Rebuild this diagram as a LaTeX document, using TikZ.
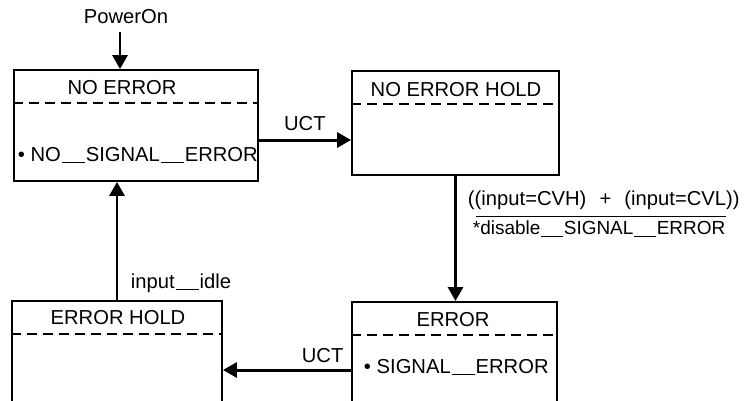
\documentclass[tikz,border=0pt]{standalone}
\usepackage{fontspec}
\setmainfont{Liberation Sans}
\usetikzlibrary{
    arrows.meta,
    calc
}
\newcommand{\ulbar}{\hspace{0.04em}\rule[-0.1em]{1.15em}{0.55pt}\hspace{0.04em}}
\tikzset{
  every node/.style={
    font=\fontsize{11.5pt}{13pt}\selectfont,
    inner sep=1.5pt
  },
  state/.style={
    draw,
    rectangle,
    line width=1.1pt
  },
  divider/.style={
    line width=1.1pt,
    dash pattern=on 0.2cm off 0.12cm
  },
  trans/.style={
    line width=1.7pt,
    -{Triangle[length=0.28cm,width=0.3cm]}
  }
}

\begin{document}
\begin{tikzpicture}[x=0.02cm,y=-0.02cm]
\clip (0,0) rectangle (746,400);
\node[state, minimum width=4.88cm, minimum height=2.22cm] (noerr) at (136,125.5) {};
\node[state, minimum width=4.14cm, minimum height=2.08cm] (noerrhold) at (455.5,123) {};
\node[state, minimum width=4.1cm, minimum height=2.56cm] (err) at (454.5,366) {};
\node[state, minimum width=4.2cm, minimum height=2.58cm] (errhold) at (117,365.5) {};
\foreach \st in {noerr,noerrhold,err,errhold} {
\draw[divider] ($(\st.north west)+(0,34)$) -- ($(\st.north east)+(0,34)$);
}
\node (noerrT) at (122,88) {NO ERROR};
\node (noerrholdT) at (456,90) {NO ERROR HOLD};
\node (errT) at (453,320) {ERROR};
\node (errholdT) at (118,318) {ERROR HOLD};
\node[anchor=west] (noerrA) at (15,155) {\textbullet\ NO\ulbar SIGNAL\ulbar ERROR};
\node[anchor=west] (errA) at (361,367) {\textbullet\ SIGNAL\ulbar ERROR};
\node (power) at (126,17) {PowerOn};
\coordinate (pwr) at (120,32);
\draw[trans] (pwr) -- (pwr |- noerr.north);
\draw[trans] (noerr.east |- 0,140) -- (noerrhold.west |- 0,140)
  node[pos=0, anchor=south west, xshift=12pt, yshift=3pt] (uct1) {UCT};
\draw[trans] (noerrhold.south) -- (noerrhold.south |- err.north);
\node[anchor=west] (cond) at (465,200) {((input=CVH)\hspace{0.65em}+\hspace{0.65em}(input=CVL))};
\node[anchor=west, font=\fontsize{10.8pt}{13pt}\selectfont] (act) at (470,229) {*disable\ulbar SIGNAL\ulbar ERROR};
\draw[line width=0.6pt] ($(act.north west)+(6,-2)$) -- ($(act.north east)+(-2,-2)$);
\draw[trans] (err.west |- 0,370) -- (errhold.east |- 0,370)
  node[pos=0, anchor=south east, xshift=-2pt, yshift=2pt] (uct2) {UCT};
\draw[trans] (errhold.north) -- (errhold.north |- noerr.south);
\node[anchor=west] (idle) at (128,283) {input\ulbar idle};
\end{tikzpicture}
\end{document}
